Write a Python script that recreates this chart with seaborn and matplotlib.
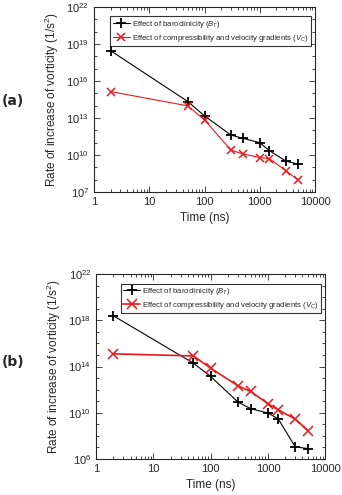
import matplotlib
matplotlib.use("Agg")
import matplotlib.pyplot as plt
import matplotlib.ticker as mticker
import seaborn as sns
import pandas as pd
import numpy as np

# data (log10 values)
time_ns = [2, 50, 100, 300, 500, 1000, 1500, 3000, 5000]
a_baro_log = [18.45, 14.33, 13.17, 11.62, 11.35, 11.0, 10.35, 9.5, 9.26]
a_comp_log = [15.14, 13.98, 12.84, 10.4, 10.08, 9.8, 9.7, 8.72, 7.96]
b_baro_log = [18.4, 14.29, 13.14, 10.92, 10.35, 9.97, 9.48, 7.04, 6.89]
b_comp_log = [15.1, 14.92, 13.86, 12.33, 11.84, 10.78, 10.26, 9.45, 8.45]

lbl_baro = 'Effect of baroclinicity ($B_T$)'
lbl_comp = 'Effect of compressibility and velocity gradients ($V_C$)'

sns.set_style("ticks")
plt.rcParams['font.family'] = ['Liberation Sans', 'DejaVu Sans']
plt.rcParams['mathtext.fontset'] = 'custom'
plt.rcParams['mathtext.rm'] = 'Liberation Sans'
plt.rcParams['mathtext.it'] = 'Liberation Sans:italic'

fig = plt.figure(figsize=(3.42, 4.95), dpi=100)
ax_a = fig.add_axes([0.275, 0.612, 0.646, 0.374])
ax_b = fig.add_axes([0.281, 0.073, 0.670, 0.373])

RED = '#e8181c'


def draw(ax, baro, comp, ymin, ystep, comp_lw, x_size):
    df_b = pd.DataFrame({'t': time_ns, 'v': 10.0 ** np.array(baro)})
    df_c = pd.DataFrame({'t': time_ns, 'v': 10.0 ** np.array(comp)})
    sns.lineplot(data=df_b, x='t', y='v', ax=ax, color='black', lw=0.8,
                 marker='+', markersize=6.5, markeredgewidth=1.3,
                 markeredgecolor='black', label=lbl_baro)
    sns.lineplot(data=df_c, x='t', y='v', ax=ax, color=RED, lw=comp_lw,
                 marker='x', markersize=x_size, markeredgewidth=1.1,
                 markeredgecolor=RED, label=lbl_comp)
    ax.set_xscale('log')
    ax.set_yscale('log')
    ax.set_xlim(1, 10000)
    ax.set_ylim(10.0 ** ymin, 1e22)
    ax.set_xticks([1, 10, 100, 1000, 10000])
    ax.xaxis.set_major_formatter(mticker.FuncFormatter(lambda v, p: '%d' % v))
    ax.xaxis.set_minor_locator(mticker.LogLocator(base=10, subs=np.arange(2, 10)))
    ax.xaxis.set_minor_formatter(mticker.NullFormatter())
    majors = [10.0 ** e for e in range(ymin, 23, ystep)]
    ax.set_yticks(majors)
    ax.yaxis.set_major_formatter(mticker.FuncFormatter(
        lambda v, p: '10$^{%d}$' % round(np.log10(v))))
    ax.yaxis.set_minor_locator(mticker.FixedLocator(
        [10.0 ** e for e in range(ymin, 23) if (e - ymin) % ystep]))
    ax.yaxis.set_minor_formatter(mticker.NullFormatter())
    ax.tick_params(which='both', direction='in', top=True, right=True,
                   labelsize=8, width=0.6)
    ax.tick_params(which='major', length=4)
    ax.tick_params(which='minor', length=2)
    for s in ax.spines.values():
        s.set_linewidth(0.8)
    ax.set_xlabel('Time (ns)', fontsize=8.5)
    ax.set_ylabel('Rate of increase of vorticity (1/s$^2$)', fontsize=8.5)
    leg = ax.legend(loc='upper right', fontsize=5.6, frameon=True, fancybox=False,
                    edgecolor='black', handlelength=2.2, borderpad=0.3,
                    labelspacing=0.4, handletextpad=0.3,
                    bbox_to_anchor=(1.0, 0.97))
    leg.get_frame().set_linewidth(0.8)


draw(ax_a, a_baro_log, a_comp_log, 7, 3, 0.8, 6)
draw(ax_b, b_baro_log, b_comp_log, 6, 4, 1.2, 7)

fig.text(0.005, 0.795, '(a)', fontsize=10, fontweight='bold',
         family='DejaVu Sans', va='center')
fig.text(0.005, 0.268, '(b)', fontsize=10, fontweight='bold',
         family='DejaVu Sans', va='center')

fig.savefig('out.png', dpi=100)
